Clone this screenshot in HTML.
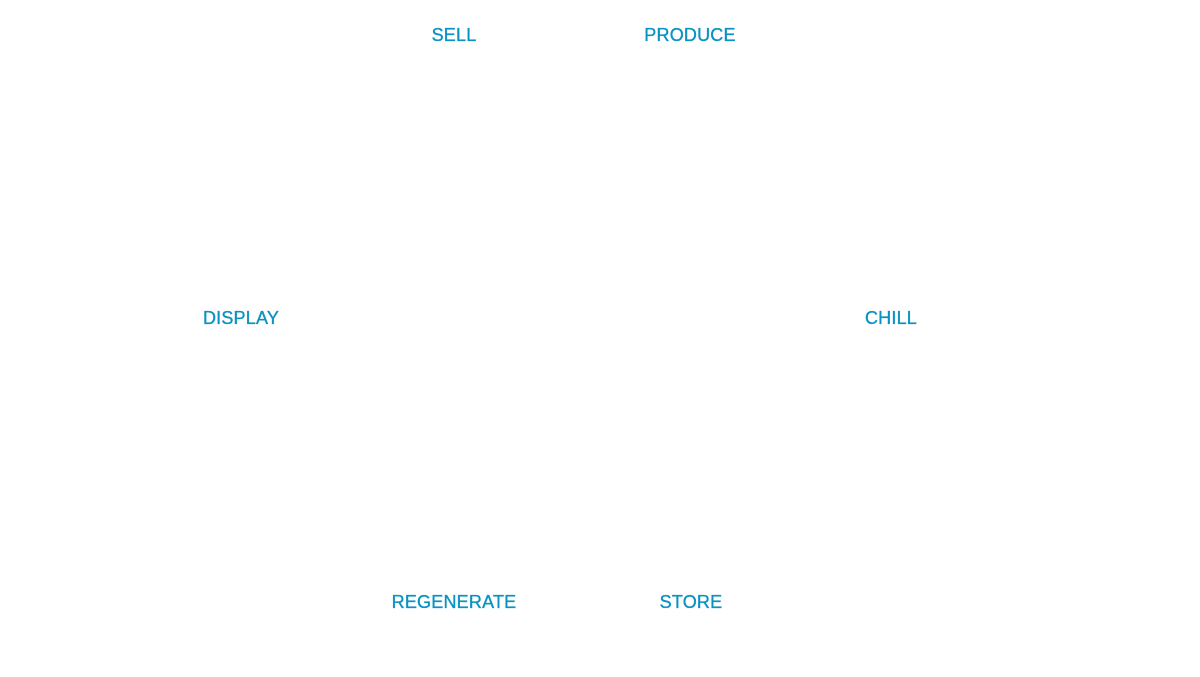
<!DOCTYPE html>
<html><head><style>
html,body{margin:0;padding:0;background:#fff;width:1200px;height:677px;overflow:hidden;position:relative}
.t{position:absolute;transform:translate(-50%,-50%);font-family:"Liberation Sans",Arial,sans-serif;font-size:18px;color:#0a93c2;white-space:nowrap;line-height:1;letter-spacing:0.2px;-webkit-text-stroke:0.35px #0a93c2}
</style></head><body>
<div class="t" style="left:454px;top:35px">SELL</div>
<div class="t" style="left:690px;top:35px">PRODUCE</div>
<div class="t" style="left:241px;top:318px">DISPLAY</div>
<div class="t" style="left:891px;top:318px">CHILL</div>
<div class="t" style="left:454px;top:602px">REGENERATE</div>
<div class="t" style="left:691px;top:602px">STORE</div>
</body></html>
